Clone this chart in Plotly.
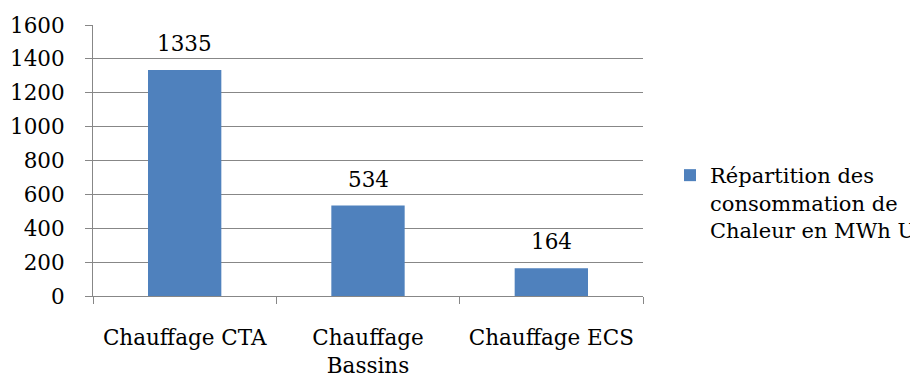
import plotly.graph_objects as go

categories = ["Chauffage CTA", "Chauffage<br>Bassins", "Chauffage ECS"]
values = [1335, 534, 164]
series_name = "Répartition des<br>consommation de<br>Chaleur en MWh U"
y_ticks = [0, 200, 400, 600, 800, 1000, 1200, 1400, 1600]

FONT = "DejaVu Serif"
FS = 21.5
LFS = 21
GRID = "#878787"
BAR = "#4F81BD"

W, H = 910, 370  # page body has an 8px margin

fig = go.Figure()
fig.add_trace(go.Bar(
    x=categories, y=values, name=series_name,
    marker=dict(color=BAR, line=dict(width=0)),
    showlegend=True,
))

for c, v in zip(categories, values):
    fig.add_annotation(
        x=c, y=v, text=str(v), showarrow=False,
        yanchor="bottom", yshift=12,
        font=dict(family=FONT, size=FS, color="#000000"),
    )

fig.update_layout(
    width=W, height=H,
    margin=dict(l=85, r=275, t=17, b=82),
    paper_bgcolor="white", plot_bgcolor="white",
    font=dict(family=FONT, size=FS, color="#000000"),
    bargap=0.6,
    showlegend=True,
    legend=dict(
        xref="container", yref="container",
        x=662 / W, y=1 - 147 / H, xanchor="left", yanchor="top",
        valign="top",
        font=dict(family=FONT, size=LFS, color="#000000"),
        itemwidth=30, tracegroupgap=0,
        bgcolor="rgba(0,0,0,0)",
    ),
    xaxis=dict(
        showline=True, linecolor=GRID, linewidth=1,
        ticks="outside", tickson="boundaries", ticklen=7, tickcolor=GRID,
        showgrid=False, ticklabelstandoff=22, automargin=False,
        tickfont=dict(family=FONT, size=FS),
    ),
    yaxis=dict(
        range=[0, 1600], tickvals=y_ticks,
        showline=True, linecolor=GRID, linewidth=1,
        ticks="outside", ticklen=7, tickcolor=GRID,
        showgrid=True, gridcolor=GRID, gridwidth=1,
        zeroline=False, ticklabelstandoff=16, automargin=False,
        tickfont=dict(family=FONT, size=FS),
    ),
)

fig.write_html("out.html")
